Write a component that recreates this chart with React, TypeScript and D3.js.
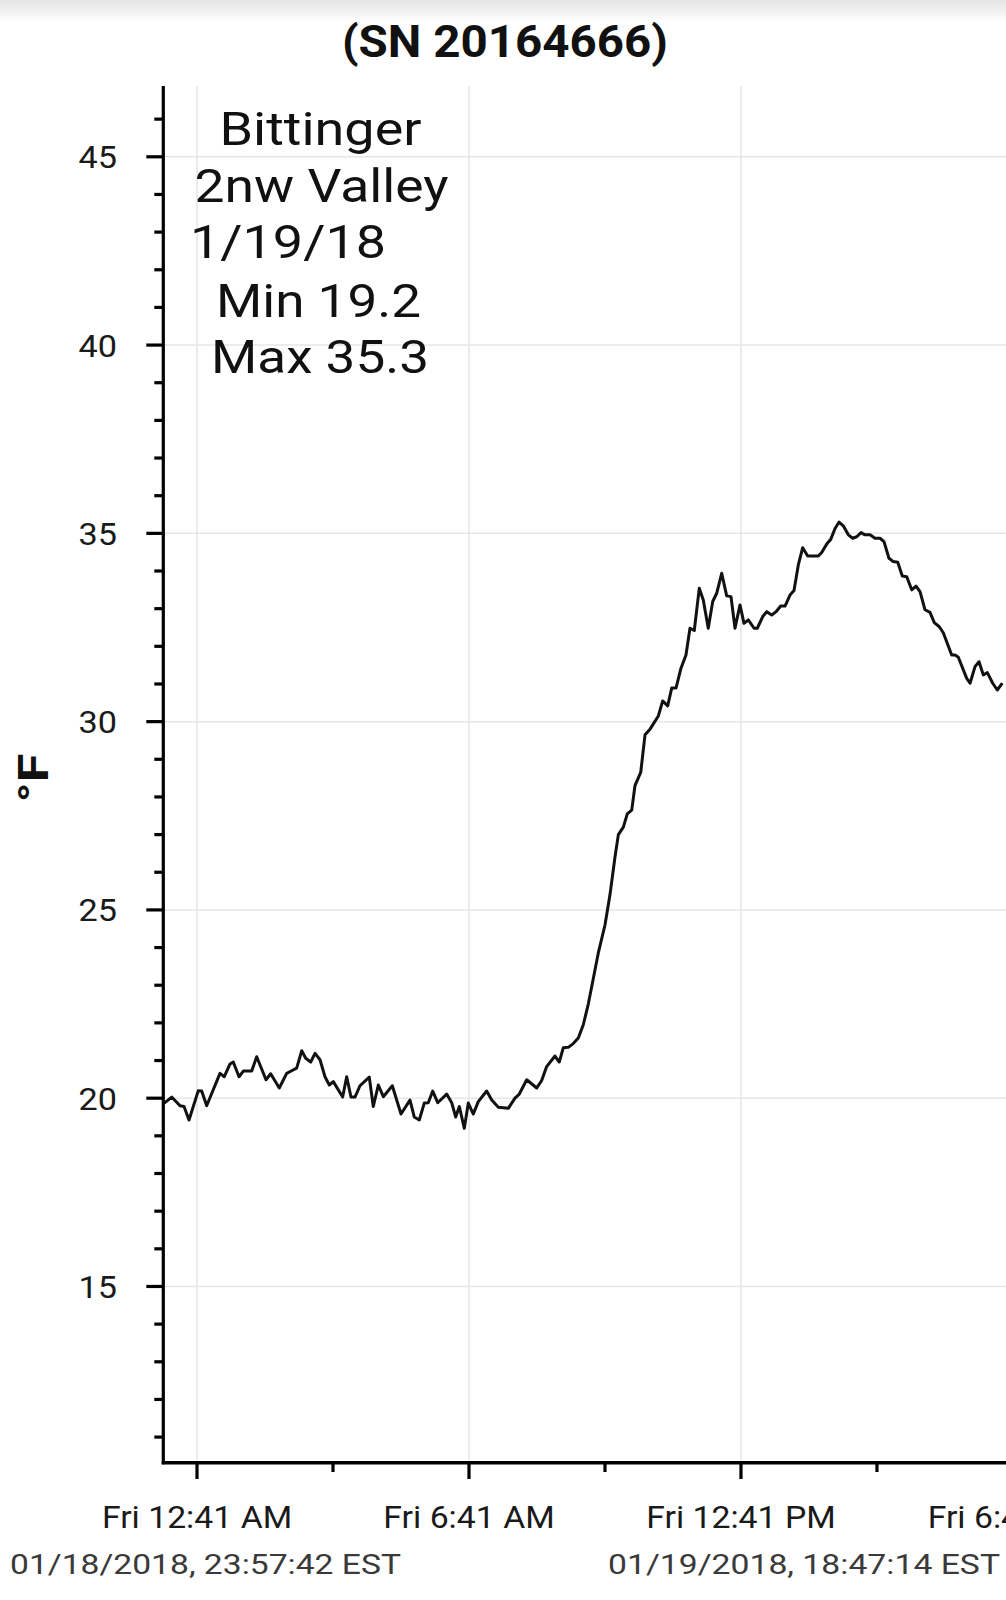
import React from "react";
import * as d3 from "d3";

const TITLE = "(SN 20164666)";
const NOTE_LINES = ["Bittinger", "2nw Valley", "1/19/18", "Min 19.2", "Max 35.3"];
const Y_TITLE = "°F";
const START_LABEL = "01/18/2018, 23:57:42 EST";
const END_LABEL = "01/19/2018, 18:47:14 EST";
const START_TIME = new Date(2018, 0, 18, 23, 57, 42);
const END_TIME = new Date(2018, 0, 19, 18, 47, 14);

const minutesFromStart = [
  0, 9.8, 20.8, 26.1, 32.7, 45.0, 49.5, 56.1, 73.7, 79.4, 87.0, 91.3, 98.9, 104.6, 115.7, 122.3,
  134.6, 140.8, 152.2, 162.0, 168.6, 175.2, 181.9, 187.2, 193.8, 199.5, 206.1, 212.7, 218.4, 223.7,
  236.1, 241.4, 247.1, 252.4, 259.0, 271.3, 276.6, 283.3, 289.9, 301.8, 313.3, 325.2, 330.9, 337.5,
  344.1, 349.4, 355.3, 361.9, 373.8, 380.4, 385.7, 390.5, 397.1, 402.4, 409.0, 415.6, 426.7, 433.4,
  442.1, 455.3, 464.2, 469.9, 479.7, 492.9, 499.5, 506.1, 517.1, 522.8, 528.1, 534.7, 541.3, 548.0,
  554.6, 561.2, 566.1, 574.4, 583.3, 589.9, 596.5, 601.0, 607.6, 612.8, 618.7, 623.0, 630.6, 636.3,
  642.9, 653.9, 659.7, 666.3, 671.6, 677.3, 683.9, 690.5, 695.8, 701.5, 708.1, 713.4, 720.0, 725.9,
  731.2, 737.8, 744.4, 750.1, 755.4, 762.0, 767.3, 773.0, 780.6, 784.9, 792.1, 797.4, 804.0, 809.7,
  815.9, 821.6, 828.2, 833.5, 839.2, 845.0, 851.6, 865.7, 870.1, 877.6, 882.1, 887.8, 893.1, 898.7,
  905.4, 911.2, 916.5, 922.2, 927.5, 934.1, 940.7, 947.3, 952.6, 959.2, 964.9, 970.8, 976.8, 982.7,
  989.3, 995.0, 1000.3, 1006.9, 1013.5, 1019.2, 1025.8, 1031.1, 1042.2, 1046.6, 1051.0, 1062.1,
  1066.5, 1073.1, 1078.4, 1084.1, 1089.4, 1096.5, 1102.6, 1109.2,
];

const tempF = [
  19.87, 20.03, 19.8, 19.78, 19.42, 20.2, 20.19, 19.8, 20.66, 20.57, 20.91, 20.96, 20.57, 20.72, 20.72, 21.1,
  20.49, 20.65, 20.27, 20.66, 20.73, 20.8, 21.26, 21.06, 20.96, 21.19, 21.02, 20.57, 20.35, 20.44,
  20.03, 20.57, 20.03, 20.03, 20.33, 20.56, 19.78, 20.35, 20.04, 20.33, 19.58, 19.95, 19.5, 19.42,
  19.87, 19.88, 20.19, 19.88, 20.11, 19.88, 19.5, 19.78, 19.2, 19.87, 19.58, 19.91, 20.19, 19.95,
  19.76, 19.73, 20.0, 20.11, 20.49, 20.27, 20.47, 20.84, 21.12, 20.96, 21.34, 21.35, 21.45, 21.6,
  21.95, 22.5, 23.0, 23.85, 24.6, 25.4, 26.4, 27.0, 27.2, 27.55, 27.65, 28.3, 28.65, 29.65,
  29.8, 30.15, 30.55, 30.42, 30.89, 30.89, 31.42, 31.77, 32.48, 32.42, 33.54, 33.23, 32.48, 33.19,
  33.41, 33.94, 33.34, 33.32, 32.48, 33.1, 32.61, 32.7, 32.48, 32.48, 32.79, 32.92, 32.83, 32.92,
  33.07, 33.07, 33.36, 33.48, 34.16, 34.62, 34.4, 34.4, 34.49, 34.74, 34.84, 35.13, 35.3, 35.2,
  34.96, 34.87, 34.91, 35.02, 34.96, 34.96, 34.87, 34.87, 34.78, 34.34, 34.25, 34.23, 33.87, 33.85,
  33.5, 33.6, 33.45, 32.97, 32.9, 32.63, 32.52, 32.36, 31.77, 31.77, 31.71, 31.15,
  31.02, 31.46, 31.59, 31.24, 31.3, 31.02, 30.84, 31.02,
];

const yDomain = [10.32, 46.88];
const yMajorTicks = [15, 20, 25, 30, 35, 40, 45];
const xMajorTickTimes = [
  new Date(2018, 0, 19, 0, 41),
  new Date(2018, 0, 19, 6, 41),
  new Date(2018, 0, 19, 12, 41),
  new Date(2018, 0, 19, 18, 41),
];
const xMajorTickLabels = ["Fri 12:41 AM", "Fri 6:41 AM", "Fri 12:41 PM", "Fri 6:41 PM"];
const xMinorTickTimes = [
  new Date(2018, 0, 19, 3, 41),
  new Date(2018, 0, 19, 9, 41),
  new Date(2018, 0, 19, 15, 41),
];

const W = 1006;
const H = 1600;
const FONT = "Roboto, 'Noto Sans', sans-serif";

// annotation layout: [x, baseline, textLength]
const noteLayout: [number, number, number][] = [
  [219.5, 145, 202],
  [194.5, 201.7, 254],
  [190, 258.3, 196],
  [216, 316.7, 205],
  [211, 373.3, 218],
];

export default function App() {
  const data = minutesFromStart.map((m, i) => ({
    t: new Date(START_TIME.getTime() + m * 60000),
    v: tempF[i],
  }));

  const plotLeft = 164.3;
  const pxPerHour = 45.33;
  const spanHours = (END_TIME.getTime() - START_TIME.getTime()) / 3600000;
  const x = d3.scaleTime().domain([START_TIME, END_TIME]).range([plotLeft, plotLeft + spanHours * pxPerHour]);
  const y = d3.scaleLinear().domain(yDomain).range([1462.7, 86]);

  const axisX = 163.3;
  const axisY = y(yDomain[0]);
  const top = y(yDomain[1]);

  const line = d3
    .line<{ t: Date; v: number }>()
    .x((d) => x(d.t))
    .y((d) => y(d.v));

  const yMinor = d3.range(11, 47).filter((v) => !yMajorTicks.includes(v));

  return (
    <svg
      width={W}
      height={H}
      style={{ position: "absolute", left: 0, top: 0, background: "#fff" }}
      fontFamily={FONT}
    >
      <defs>
        <linearGradient id="topShade" x1="0" y1="0" x2="0" y2="1">
          <stop offset="0" stopColor="#e4e4e4" />
          <stop offset="1" stopColor="#ffffff" />
        </linearGradient>
        <clipPath id="plotClip">
          <rect x={axisX} y={top - 5} width={W - axisX} height={axisY - top + 5} />
        </clipPath>
      </defs>
      <rect x={0} y={0} width={W} height={H} fill="#fff" />
      <rect x={0} y={0} width={W} height={22} fill="url(#topShade)" />

      <text
        x={505}
        y={57}
        textAnchor="middle"
        fontSize={45}
        fontWeight="bold"
        fill="#111"
        textLength={326}
        lengthAdjust="spacingAndGlyphs"
      >
        {TITLE}
      </text>

      {/* grid */}
      {yMajorTicks.map((v) => (
        <line key={"gy" + v} x1={axisX} x2={W} y1={y(v)} y2={y(v)} stroke="#e6e6e6" strokeWidth={1.5} />
      ))}
      {xMajorTickTimes.map((t, i) => (
        <line key={"gx" + i} x1={x(t)} x2={x(t)} y1={top} y2={axisY} stroke="#e6e6e6" strokeWidth={1.5} />
      ))}

      {/* annotation */}
      {NOTE_LINES.map((s, i) => (
        <text
          key={"n" + i}
          x={noteLayout[i][0]}
          y={noteLayout[i][1]}
          fontSize={46}
          fill="#111"
          textLength={noteLayout[i][2]}
          lengthAdjust="spacingAndGlyphs"
        >
          {s}
        </text>
      ))}

      {/* data line */}
      <path d={line(data) || ""} fill="none" stroke="#111" strokeWidth={3} strokeLinejoin="round" clipPath="url(#plotClip)" />

      {/* y axis */}
      <line x1={axisX} x2={axisX} y1={top} y2={axisY + 1.5} stroke="#000" strokeWidth={3.2} />
      {yMajorTicks.map((v) => (
        <g key={"yt" + v}>
          <line x1={axisX - 17} x2={axisX} y1={y(v)} y2={y(v)} stroke="#000" strokeWidth={3.2} />
          <text
            transform={`translate(117,${y(v) + 11.5}) scale(1.07,1)`}
            textAnchor="end"
            fontSize={32}
            fill="#1a1a1a"
          >
            {v}
          </text>
        </g>
      ))}
      {yMinor.map((v) => (
        <line key={"ym" + v} x1={axisX - 9} x2={axisX} y1={y(v)} y2={y(v)} stroke="#000" strokeWidth={3.2} />
      ))}
      <text
        transform={`translate(48,778) rotate(-90)`}
        textAnchor="middle"
        fontSize={42}
        fontWeight="bold"
        fill="#111"
        textLength={49}
        lengthAdjust="spacingAndGlyphs"
      >
        {Y_TITLE}
      </text>

      {/* x axis */}
      <line x1={axisX - 1.6} x2={W} y1={axisY} y2={axisY} stroke="#000" strokeWidth={3.4} />
      {xMajorTickTimes.map((t, i) => (
        <g key={"xt" + i}>
          <line x1={x(t)} x2={x(t)} y1={axisY} y2={1479} stroke="#000" strokeWidth={3.2} />
          <text
            transform={`translate(${x(t)},1528) scale(1.09,1)`}
            textAnchor="middle"
            fontSize={31}
            fill="#1a1a1a"
          >
            {xMajorTickLabels[i]}
          </text>
        </g>
      ))}
      {xMinorTickTimes.map((t, i) => (
        <line key={"xm" + i} x1={x(t)} x2={x(t)} y1={axisY} y2={1472} stroke="#000" strokeWidth={3.2} />
      ))}

      <text x={10} y={1574} fontSize={27} fill="#3a3a3a" textLength={391} lengthAdjust="spacingAndGlyphs">
        {START_LABEL}
      </text>
      <text x={608} y={1574} fontSize={27} fill="#3a3a3a" textLength={392} lengthAdjust="spacingAndGlyphs">
        {END_LABEL}
      </text>
    </svg>
  );
}
